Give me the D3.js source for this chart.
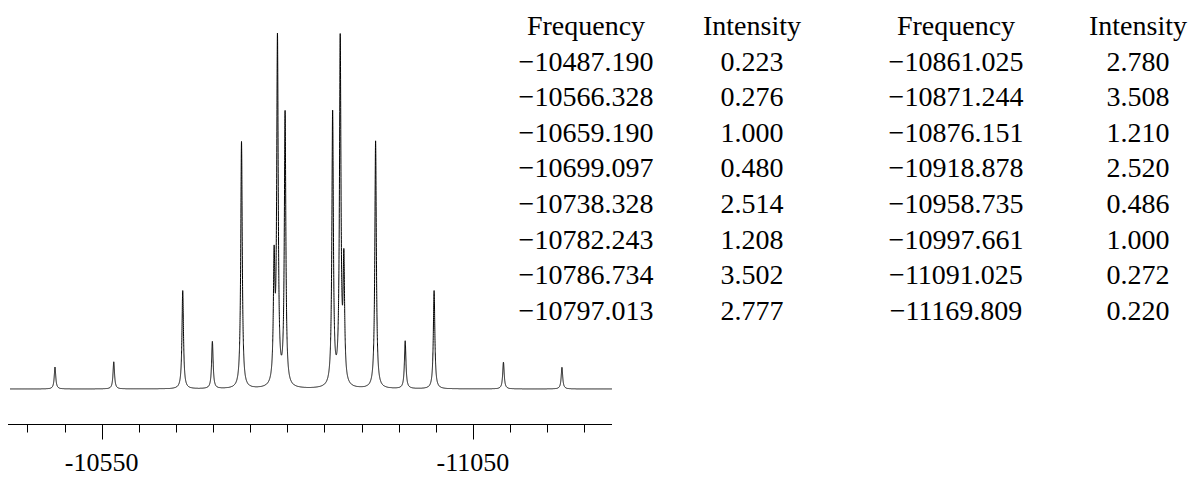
<!DOCTYPE html>
<html><head><meta charset="utf-8">
<script src="https://cdn.jsdelivr.net/npm/d3@7"></script>
<style>
html,body{margin:0;padding:0;background:#fff;}
svg{display:block;}
</style></head>
<body>
<svg id="c" width="1192" height="477"></svg>
<script>
// ---- data ----
const frequencies = [-10487.190,-10566.328,-10659.190,-10699.097,-10738.328,-10782.243,-10786.734,-10797.013,
                     -10861.025,-10871.244,-10876.151,-10918.878,-10958.735,-10997.661,-11091.025,-11169.809];
const intensities = [0.223,0.276,1.000,0.480,2.514,1.208,3.502,2.777,
                     2.780,3.508,1.210,2.520,0.486,1.000,0.272,0.220];
const freqLabels = ["\u221210487.190","\u221210566.328","\u221210659.190","\u221210699.097","\u221210738.328","\u221210782.243","\u221210786.734","\u221210797.013",
                    "\u221210861.025","\u221210871.244","\u221210876.151","\u221210918.878","\u221210958.735","\u221210997.661","\u221211091.025","\u221211169.809"];
const intLabels = ["0.223","0.276","1.000","0.480","2.514","1.208","3.502","2.777",
                   "2.780","3.508","1.210","2.520","0.486","1.000","0.272","0.220"];
const headers = ["Frequency","Intensity","Frequency","Intensity"];
const plotRange = [-10426.6, -11237.2];
const minorTicks = d3.range(-10450, -11201, -50);
const majorTicks = [-10550, -11050];
const halfWidth = 1.2;

const FONT = "'Liberation Serif', 'Times New Roman', Tinos, 'DejaVu Serif', serif";

// ---- spectrum ----
const svg = d3.select("#c");
const x = d3.scaleLinear().domain(plotRange).range([10, 612]);
const pts = [];
for (let f = plotRange[0]; f >= plotRange[1]; f -= 0.04) {
  let s = 0;
  for (let i = 0; i < frequencies.length; i++) {
    const d = (f - frequencies[i]) / halfWidth;
    s += intensities[i] / (1 + d * d);
  }
  pts.push([f, s]);
}
const ymax = d3.max(pts, d => d[1]);
const y = d3.scaleLinear().domain([0, ymax]).range([389, 33]);
svg.append("path")
  .attr("d", d3.line().x(d => x(d[0])).y(d => y(d[1]))(pts))
  .attr("fill", "none").attr("stroke", "#000").attr("stroke-width", 1);

// ---- axis ----
const axisY = 424.5;
const g = svg.append("g");
g.append("line").attr("x1", 8).attr("x2", 612).attr("y1", axisY).attr("y2", axisY)
  .attr("stroke", "#000").attr("stroke-width", 1);
g.selectAll("line.minor").data(minorTicks.filter(t => !majorTicks.includes(t))).join("line")
  .attr("class", "minor")
  .attr("x1", d => Math.round(x(d)) + 0.5).attr("x2", d => Math.round(x(d)) + 0.5)
  .attr("y1", axisY).attr("y2", axisY + 8)
  .attr("stroke", "#000").attr("stroke-width", 1);
g.selectAll("line.major").data(majorTicks).join("line")
  .attr("class", "major")
  .attr("x1", d => Math.round(x(d)) + 0.5).attr("x2", d => Math.round(x(d)) + 0.5)
  .attr("y1", axisY).attr("y2", axisY + 15)
  .attr("stroke", "#000").attr("stroke-width", 1);
g.selectAll("text.lab").data(majorTicks).join("text")
  .attr("class", "lab")
  .attr("x", d => x(d)).attr("y", 471)
  .attr("text-anchor", "middle").attr("font-size", 26)
  .attr("font-family", FONT)
  .text(d => String(d));

// ---- table ----
const colX = [586, 752, 956, 1138];
const rowY0 = 35, rowStep = 35.6, fs = 28;
const t = svg.append("g").attr("font-size", fs).attr("font-family", FONT);
headers.forEach((h, i) => t.append("text").attr("x", colX[i]).attr("y", rowY0)
  .attr("text-anchor", "middle").text(h));
for (let r = 0; r < 8; r++) {
  [[freqLabels[r], 0], [intLabels[r], 1], [freqLabels[r + 8], 2], [intLabels[r + 8], 3]].forEach(([s, c]) => {
    t.append("text").attr("x", colX[c]).attr("y", rowY0 + (r + 1) * rowStep)
      .attr("text-anchor", "middle").text(s);
  });
}
</script>
</body></html>
